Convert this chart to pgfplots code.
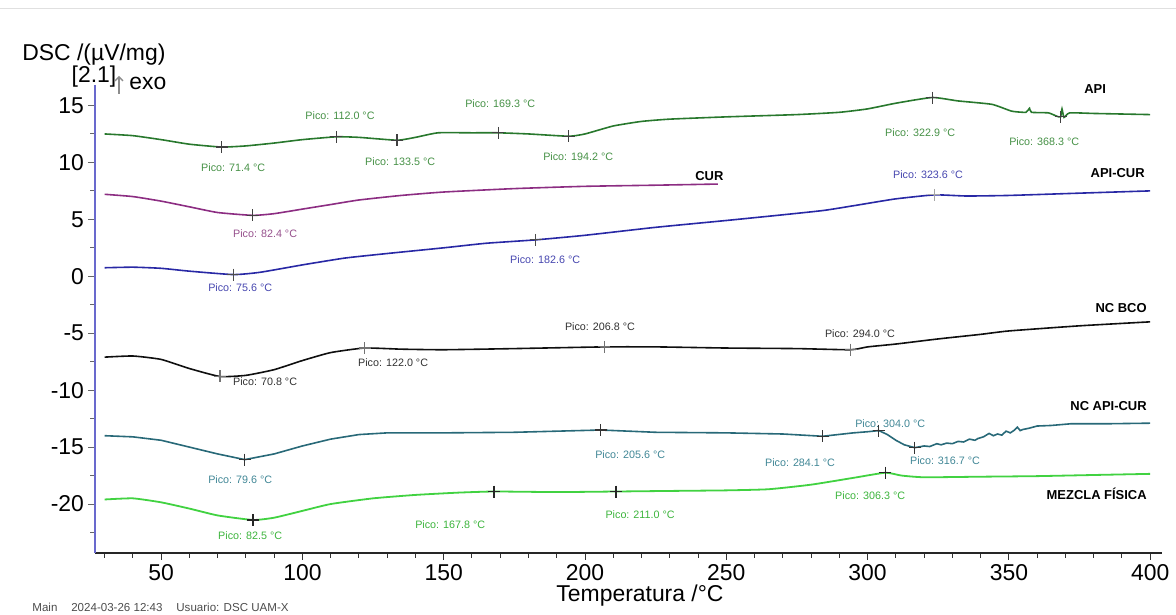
\documentclass[border=0pt]{standalone}
\usepackage{fontspec}
\setmainfont{Liberation Sans}
\usepackage{pgfplots}
\pgfplotsset{compat=1.18}
\usetikzlibrary{arrows.meta}
\definecolor{apicol}{RGB}{40,120,45}
\definecolor{apilab}{RGB}{70,145,70}
\definecolor{curcol}{RGB}{140,45,130}
\definecolor{curlab}{RGB}{150,80,140}
\definecolor{acucol}{RGB}{40,40,165}
\definecolor{aculab}{RGB}{70,70,175}
\definecolor{bcocol}{RGB}{15,15,15}
\definecolor{bcolab}{RGB}{50,50,50}
\definecolor{ncacol}{RGB}{40,105,120}
\definecolor{ncalab}{RGB}{65,135,150}
\definecolor{mezcol}{RGB}{65,210,65}
\definecolor{mezlab}{RGB}{60,180,60}
\definecolor{yaxcol}{RGB}{105,105,205}
\tikzset{
  lab/.style={font=\fontsize{5.4}{6}\selectfont, inner sep=0pt},
  ser/.style={font=\fontsize{6.5}{7}\selectfont\bfseries, inner sep=0pt, anchor=east},
}
\pgfplotsset{pk/.style={only marks, mark=+, mark size=3bp, mark options={line width=0.6bp}}}
\begin{document}
\begin{tikzpicture}[x=0.5bp,y=0.5bp]
\path[use as bounding box] (0,0) rectangle (1176,614);
\draw[black!12] (0,606) -- (1176,606);
\begin{axis}[
  at={(47.5bp,30.5bp)}, anchor=south west,
  scale only axis, width=533.5bp, height=234bp,
  xmin=26.6, xmax=404.2, ymin=-24.3, ymax=16.8,
  axis x line*=bottom, axis y line*=left,
  x axis line style={-, black!85, line width=0.6bp},
  y axis line style={-, yaxcol, line width=1.2bp},
  xtick={50,100,...,400}, minor xtick={30,40,...,400},
  ytick={-20,-15,...,15}, minor ytick={-22.5,-17.5,...,12.5},
  tick align=outside, major tick length=3.5bp, minor tick length=2.5bp,
  x tick style={black!80, line width=0.5bp},
  y tick style={black!60, line width=0.5bp},
  ticklabel style={font=\fontsize{11.5}{13}\selectfont},
  yticklabel style={xshift=1.5bp},
  xticklabel style={yshift=1.5bp},
  /pgf/number format/assume math mode=true,
  clip=false,
]
% API
\addplot[apicol, line width=0.8bp, smooth, tension=0.3] coordinates {
(30,12.5)(40,12.35)(50,12.0)(60,11.6)(71.4,11.35)(80,11.45)(90,11.7)(100,12.0)
(112,12.25)(120,12.2)(133.5,11.95)(140,12.2)(148,12.6)(160,12.6)(169.3,12.6)
(180,12.5)(194.2,12.3)(200,12.5)(210,13.2)(220,13.6)(230,13.8)(250,14.0)
(275,14.2)(290,14.4)(300,14.7)(310,15.2)(322.9,15.7)(332,15.4)(344,15.1)
(351,14.5)(356,14.4)(357.3,14.75)(358,14.4)(364,14.35)(367,14.05)(368.3,14.0)
(368.8,14.7)(369.5,13.95)(371.5,14.35)(380,14.3)(390,14.25)(400,14.2)};
\addplot[pk, black!75] coordinates {(71.4,11.35)(112,12.25)(133.5,11.95)(169.3,12.6)(194.2,12.3)(322.9,15.7)(368.3,14.0)};
% CUR
\addplot[curcol, line width=0.8bp, smooth, tension=0.3] coordinates {
(30,7.2)(40,7.0)(50,6.6)(60,6.1)(70,5.6)(82.4,5.35)(90,5.5)(100,5.9)(110,6.3)
(120,6.7)(135,7.1)(150,7.4)(175,7.7)(200,7.9)(225,8.0)(247,8.1)};
\addplot[pk, black!75] coordinates {(82.4,5.35)};
% API-CUR
\addplot[acucol, line width=0.8bp, smooth, tension=0.3] coordinates {
(30,0.75)(40,0.8)(50,0.7)(60,0.45)(75.6,0.15)(85,0.35)(100,1.0)(115,1.6)(130,2.0)
(150,2.5)(165,2.9)(182.6,3.2)(200,3.6)(225,4.3)(250,4.9)(270,5.4)(285,5.8)
(300,6.4)(310,6.8)(323.6,7.15)(335,7.05)(350,7.1)(375,7.3)(400,7.5)};
\addplot[pk, black!70] coordinates {(75.6,0.15)(182.6,3.2)};
\addplot[pk, black!35] coordinates {(323.6,7.15)};
% NC BCO
\addplot[bcocol, line width=0.8bp, smooth, tension=0.3] coordinates {
(30,-7.1)(40,-7.0)(50,-7.3)(60,-8.1)(70.8,-8.8)(80,-8.7)(90,-8.2)(100,-7.4)
(110,-6.7)(122,-6.3)(135,-6.4)(150,-6.45)(175,-6.35)(206.8,-6.2)(225,-6.2)
(250,-6.3)(275,-6.35)(294,-6.45)(300,-6.2)(310,-5.95)(325,-5.5)(340,-5.1)
(350,-4.8)(375,-4.35)(400,-4.0)};
\addplot[pk, black!55] coordinates {(70.8,-8.8)(122,-6.3)(206.8,-6.2)(294,-6.45)};
% NC API-CUR
\addplot[ncacol, line width=0.8bp] coordinates {
(30,-14.0)(40,-14.1)(50,-14.4)(60,-15.0)(70,-15.6)(79.6,-16.1)(90,-15.6)
(100,-14.9)(110,-14.3)(120,-13.9)(130,-13.75)(150,-13.75)(175,-13.7)
(205.6,-13.5)(225,-13.7)(250,-13.75)(270,-13.85)(284.1,-14.05)(295,-13.75)
(300,-13.65)(304,-13.55)(307,-13.9)(310,-14.4)(313,-14.8)(316.7,-15.05)
(320,-14.9)(322,-14.95)(324.5,-14.7)(326,-14.8)(328,-14.65)(330,-14.7)
(332,-14.5)(334,-14.55)(336,-14.3)(338,-14.4)(339,-14.25)(341,-14.1)
(343,-13.8)(344.5,-14.0)(346,-13.85)(347.5,-13.95)(349,-13.6)(350.5,-13.75)
(352,-13.5)(353,-13.25)(354,-13.55)(355,-13.45)(357,-13.35)(360,-13.15)
(365,-13.1)(372,-12.95)(385,-12.95)(400,-12.9)};
\addplot[pk, black!80] coordinates {(79.6,-16.1)(205.6,-13.5)(284.1,-14.05)(304,-13.55)(316.7,-15.05)};
% MEZCLA
\addplot[mezcol, line width=0.9bp, smooth, tension=0.3] coordinates {
(30,-19.6)(40,-19.5)(50,-19.85)(60,-20.4)(70,-21.0)(82.5,-21.4)(90,-21.2)
(100,-20.6)(110,-20.0)(125,-19.5)(140,-19.2)(155,-19.0)(167.8,-18.9)
(190,-18.95)(211,-18.9)(230,-18.85)(250,-18.8)(265,-18.7)(280,-18.3)
(295,-17.7)(306.3,-17.25)(312,-17.5)(320,-17.65)(340,-17.6)(360,-17.55)
(380,-17.45)(400,-17.35)};
\addplot[pk, black!85] coordinates {(82.5,-21.4)(167.8,-18.9)(211,-18.9)(306.3,-17.25)};
% labels API
\node[lab, text=apilab] at (axis cs:75.5,9.53) {Pico: 71.4 °C};
\node[lab, text=apilab] at (axis cs:113.3,14.1) {Pico: 112.0 °C};
\node[lab, text=apilab] at (axis cs:134.6,10.06) {Pico: 133.5 °C};
\node[lab, text=apilab] at (axis cs:170,15.16) {Pico: 169.3 °C};
\node[lab, text=apilab] at (axis cs:197.6,10.5) {Pico: 194.2 °C};
\node[lab, text=apilab] at (axis cs:318.6,12.6) {Pico: 322.9 °C};
\node[lab, text=apilab] at (axis cs:362.5,11.8) {Pico: 368.3 °C};
\node[ser] at (axis cs:384.5,16.4) {API};
% CUR
\node[lab, text=curlab] at (axis cs:86.8,3.73) {Pico: 82.4 °C};
\node[ser, anchor=center] at (axis cs:244,8.8) {CUR};
% API-CUR
\node[lab, text=aculab] at (axis cs:78,-1.0) {Pico: 75.6 °C};
\node[lab, text=aculab] at (axis cs:185.9,1.45) {Pico: 182.6 °C};
\node[lab, text=aculab] at (axis cs:321.4,8.9) {Pico: 323.6 °C};
\node[ser] at (axis cs:398.2,9.1) {API-CUR};
% NC BCO
\node[lab, text=bcolab] at (axis cs:86.8,-9.27) {Pico: 70.8 °C};
\node[lab, text=bcolab] at (axis cs:132.1,-7.6) {Pico: 122.0 °C};
\node[lab, text=bcolab] at (axis cs:205.3,-4.4) {Pico: 206.8 °C};
\node[lab, text=bcolab] at (axis cs:297.3,-5.05) {Pico: 294.0 °C};
\node[ser] at (axis cs:398.9,-2.77) {NC BCO};
% NC API-CUR
\node[lab, text=ncalab] at (axis cs:78,-17.9) {Pico: 79.6 °C};
\node[lab, text=ncalab] at (axis cs:216,-15.7) {Pico: 205.6 °C};
\node[lab, text=ncalab] at (axis cs:276.1,-16.4) {Pico: 284.1 °C};
\node[lab, text=ncalab] at (axis cs:308,-12.96) {Pico: 304.0 °C};
\node[lab, text=ncalab] at (axis cs:327.4,-16.2) {Pico: 316.7 °C};
\node[ser] at (axis cs:398.9,-11.4) {NC API-CUR};
% MEZCLA
\node[lab, text=mezlab] at (axis cs:81.5,-22.8) {Pico: 82.5 °C};
\node[lab, text=mezlab] at (axis cs:152.3,-21.8) {Pico: 167.8 °C};
\node[lab, text=mezlab] at (axis cs:219.5,-20.9) {Pico: 211.0 °C};
\node[lab, text=mezlab] at (axis cs:300.9,-19.3) {Pico: 306.3 °C};
\node[ser] at (axis cs:398.9,-19.1) {MEZCLA FÍSICA};
\end{axis}
\node[font=\fontsize{11.5}{13}\selectfont, anchor=west, inner sep=0pt] at (22,559) {DSC /(µV/mg)};
\node[font=\fontsize{11.5}{13}\selectfont, inner sep=0pt] at (94,537) {[2.1]};
\draw[black!45, line width=0.7bp, -{Straight Barb[length=2bp]}] (119,520) -- (119,538);
\node[font=\fontsize{11.5}{13}\selectfont, anchor=west, inner sep=0pt] at (129,531) {exo};
\node[font=\fontsize{11.5}{13}\selectfont, inner sep=0pt] at (640,18) {Temperatura /°C};
\node[font=\fontsize{5.8}{7}\selectfont, anchor=west, inner sep=0pt, text=black!70] at (32,7) {Main\hspace{1.2em}2024-03-26 12:43\hspace{1.2em}Usuario: DSC UAM-X};
\end{tikzpicture}
\end{document}
